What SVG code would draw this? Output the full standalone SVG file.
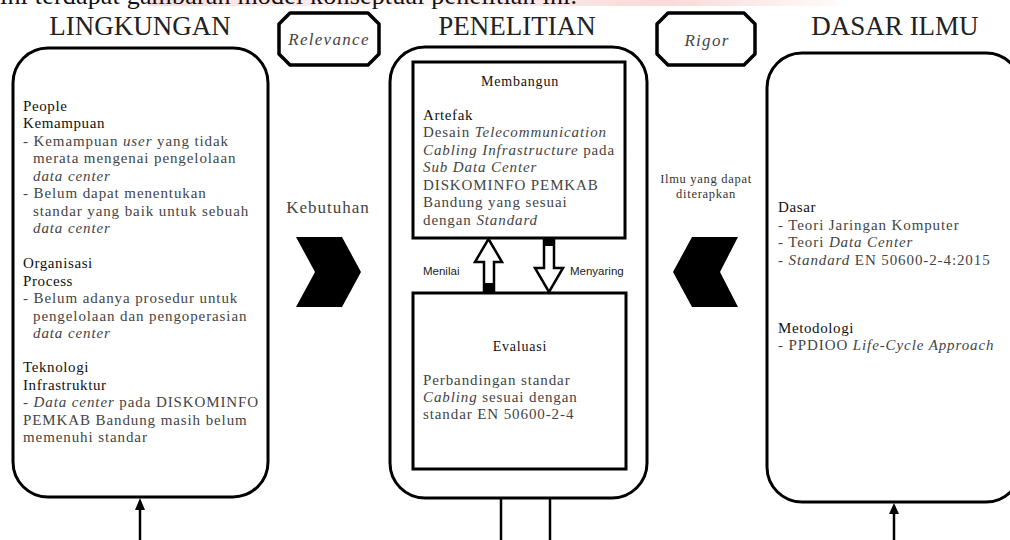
<svg xmlns="http://www.w3.org/2000/svg" width="1010" height="540" viewBox="0 0 1010 540">
<defs>
<linearGradient id="pink" x1="0" y1="0" x2="1" y2="0">
<stop offset="0" stop-color="#f0a0a0" stop-opacity="0.35"/>
<stop offset="0.4" stop-color="#f0a0a0" stop-opacity="0.12"/>
<stop offset="0.75" stop-color="#f0a0a0" stop-opacity="0.4"/>
<stop offset="1" stop-color="#f0a0a0" stop-opacity="0.05"/>
</linearGradient>
</defs>
<style>
.title{font-family:"Liberation Serif","Times New Roman",serif;font-size:27px;fill:#222;text-anchor:middle}
.box{fill:#fff;stroke:#000;stroke-width:3}
.oct{fill:#fff;stroke:#000;stroke-width:3.5;stroke-linejoin:round}
.tag{font-family:"Liberation Serif","Times New Roman",serif;font-size:17px;font-style:italic;fill:#444;letter-spacing:1.3px;text-anchor:middle}
.h{font-family:"Liberation Serif","Times New Roman",serif;font-size:15px;fill:#111;letter-spacing:0.6px}
.b{font-family:"Liberation Serif","Times New Roman",serif;font-size:15px;fill:#444;letter-spacing:0.9px}
.hc{font-family:"Liberation Serif","Times New Roman",serif;font-size:14px;fill:#111;letter-spacing:0.8px;text-anchor:middle}
.i{font-style:italic}
.sm{font-family:"Liberation Serif","Times New Roman",serif;font-size:12.5px;fill:#333;letter-spacing:0.7px;text-anchor:middle}
.lbl{font-family:"Liberation Sans",Arial,sans-serif;font-size:11.5px;fill:#222}
.keb{font-family:"Liberation Serif","Times New Roman",serif;font-size:17px;fill:#444;letter-spacing:1px;text-anchor:middle}
.line{stroke:#000;stroke-width:2.5;fill:none}
.hollow{fill:#fff;stroke:#000;stroke-width:2.5;stroke-linejoin:miter}
</style>
<rect x="148" y="0" width="690" height="6" fill="url(#pink)"/>
<text x="0" y="4" font-family="Liberation Serif, Times New Roman, serif" font-size="26" fill="#111" textLength="577">ini terdapat gambaran model konseptual penelitian ini.</text>

<g id="lingkungan">
<text class="title" x="140" y="35">LINGKUNGAN</text>
<rect class="box" x="13" y="48" width="255" height="449" rx="35" ry="35"/>
<text class="h" x="23" y="110.5">People</text>
<text class="h" x="23" y="128">Kemampuan</text>
<text class="b" x="23" y="145.5">- Kemampuan <tspan class="i">user</tspan> yang tidak</text>
<text class="b" x="33" y="163">merata mengenai pengelolaan</text>
<text class="b i" x="33" y="180.5">data center</text>
<text class="b" x="23" y="198">- Belum dapat menentukan</text>
<text class="b" x="33" y="215.5">standar yang baik untuk sebuah</text>
<text class="b i" x="33" y="233">data center</text>
<text class="h" x="23" y="268">Organisasi</text>
<text class="h" x="23" y="285.5">Process</text>
<text class="b" x="23" y="303">- Belum adanya prosedur untuk</text>
<text class="b" x="33" y="320.5">pengelolaan dan pengoperasian</text>
<text class="b i" x="33" y="338">data center</text>
<text class="h" x="23" y="372">Teknologi</text>
<text class="h" x="23" y="389.5">Infrastruktur</text>
<text class="b" x="23" y="407">- <tspan class="i">Data center</tspan> pada DISKOMINFO</text>
<text class="b" x="23" y="424.5">PEMKAB Bandung masih belum</text>
<text class="b" x="23" y="442">memenuhi standar</text>
</g>

<g id="relevance">
<polygon class="oct" points="290,13 368,13 379,24 379,54 368,65 290,65 279,54 279,24"/>
<text class="tag" x="329" y="45">Relevance</text>
</g>

<g id="penelitian">
<text class="title" x="517" y="35">PENELITIAN</text>
<rect class="box" x="390" y="47" width="257" height="451" rx="35" ry="35"/>
</g>

<g id="membangun">
<rect class="box" x="413" y="62" width="212" height="176"/>
<text class="hc" x="520" y="86">Membangun</text>
<text class="h" x="423" y="120">Artefak</text>
<text class="b" x="423" y="137">Desain <tspan class="i">Telecommunication</tspan></text>
<text class="b" x="423" y="154.5"><tspan class="i">Cabling Infrastructure</tspan> pada</text>
<text class="b i" x="423" y="172">Sub Data Center</text>
<text class="b" x="423" y="189.5">DISKOMINFO PEMKAB</text>
<text class="b" x="423" y="207">Bandung yang sesuai</text>
<text class="b" x="423" y="224.5">dengan <tspan class="i">Standard</tspan></text>
</g>

<g id="evaluasi">
<rect class="box" x="413" y="293" width="213" height="176"/>
<text class="hc" x="520" y="351">Evaluasi</text>
<text class="b" x="423" y="385">Perbandingan standar</text>
<text class="b" x="423" y="402"><tspan class="i">Cabling</tspan> sesuai dengan</text>
<text class="b" x="423" y="419">standar EN 50600-2-4</text>
</g>

<g id="rigor">
<polygon class="oct" points="668,13 744,13 755,24 755,54 744,65 668,65 657,54 657,24"/>
<text class="tag" x="707" y="46">Rigor</text>
</g>

<g id="dasar-ilmu">
<text class="title" x="895" y="35">DASAR ILMU</text>
<rect class="box" x="767" y="53" width="254" height="449" rx="35" ry="35"/>
<text class="h" x="778" y="212">Dasar</text>
<text class="b" x="778" y="229.5">- Teori Jaringan Komputer</text>
<text class="b" x="778" y="247">- Teori <tspan class="i">Data Center</tspan></text>
<text class="b" x="778" y="264.5">- <tspan class="i">Standard</tspan> EN 50600-2-4:2015</text>
<text class="h" x="778" y="333">Metodologi</text>
<text class="b" x="778" y="350">- PPDIOO <tspan class="i">Life-Cycle Approach</tspan></text>
</g>

<g id="connectors">
<text class="keb" x="328" y="213">Kebutuhan</text>
<polygon points="296,237 342,237 361,272 342,307 296,307 315,272" fill="#000"/>
<text class="sm" x="706" y="183">Ilmu yang dapat</text>
<text class="sm" x="706" y="198">diterapkan</text>
<polygon points="673,272 692,237 738,237 720,272 738,307 692,307" fill="#000"/>
<polygon class="hollow" points="488.5,239 502,262 494,262 494,292 484,292 484,262 475,262"/>
<rect x="484" y="283" width="10" height="10" fill="#000"/>
<polygon class="hollow" points="544,239 554,239 554,268 563,268 549,292 535,268 544,268"/>
<rect x="544" y="238" width="10" height="8" fill="#000"/>
<text class="lbl" x="423" y="275">Menilai</text>
<text class="lbl" x="570" y="275">Menyaring</text>
<line class="line" x1="140" y1="508" x2="140" y2="540"/>
<polygon points="140,498 135,510 145,510" fill="#000"/>
<line class="line" x1="894" y1="512" x2="894" y2="540"/>
<polygon points="894,503 889,514 899,514" fill="#000"/>
<line class="line" x1="501" y1="498" x2="501" y2="540"/>
<line class="line" x1="550" y1="498" x2="550" y2="540"/>
</g>
</svg>
